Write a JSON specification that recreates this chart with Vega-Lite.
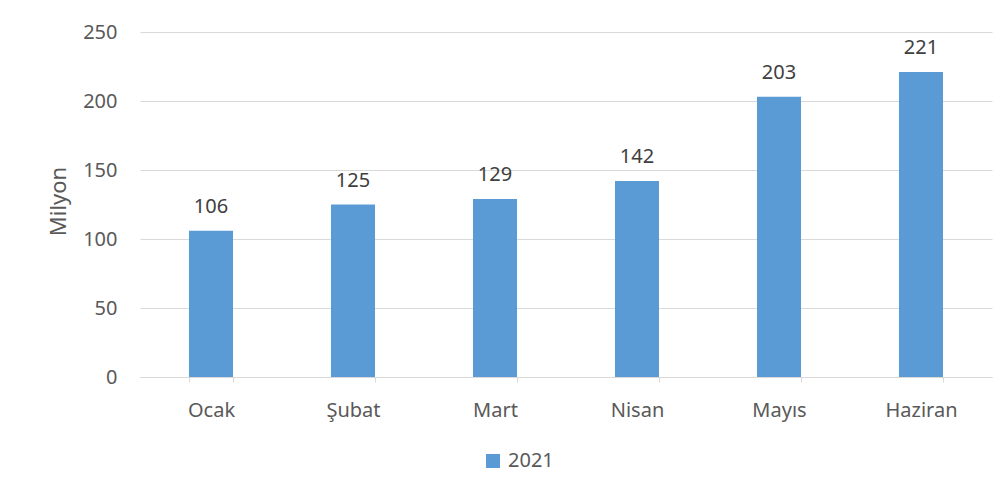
{
  "$schema": "https://vega.github.io/schema/vega-lite/v6.json",
  "width": 852,
  "height": 345,
  "autosize": {"type": "none"},
  "padding": {"left": 140, "top": 32, "right": 16, "bottom": 121},
  "background": "white",
  "config": {"view": {"stroke": null}, "font": "Noto Sans"},
  "data": {
    "values": [
      {"ay": "Ocak", "deger": 106, "yil": "2021"},
      {"ay": "Şubat", "deger": 125, "yil": "2021"},
      {"ay": "Mart", "deger": 129, "yil": "2021"},
      {"ay": "Nisan", "deger": 142, "yil": "2021"},
      {"ay": "Mayıs", "deger": 203, "yil": "2021"},
      {"ay": "Haziran", "deger": 221, "yil": "2021"}
    ]
  },
  "encoding": {
    "x": {
      "field": "ay",
      "type": "nominal",
      "sort": null,
      "scale": {"paddingInner": 0.69, "paddingOuter": 0.345},
      "axis": {
        "title": null,
        "labelAngle": 0,
        "labelFontSize": 20,
        "labelColor": "#595959",
        "labelBaseline": "alphabetic",
        "labelPadding": 34,
        "domainColor": "#D9D9D9",
        "tickColor": "#D9D9D9",
        "tickBand": "extent",
        "tickSize": 5
      }
    },
    "y": {
      "field": "deger",
      "type": "quantitative",
      "scale": {"domain": [0, 250], "nice": false},
      "axis": {
        "values": [0, 50, 100, 150, 200, 250],
        "title": "Milyon",
        "titleFontSize": 22,
        "titleFontWeight": "normal",
        "titleColor": "#595959",
        "titleAngle": 270,
        "titleAlign": "center",
        "titleBaseline": "middle",
        "titleX": -82,
        "titleY": 169,
        "labelFontSize": 20,
        "labelColor": "#595959",
        "labelPadding": 23,
        "ticks": false,
        "domain": false,
        "gridColor": "#D9D9D9",
        "gridWidth": 1
      }
    }
  },
  "layer": [
    {
      "mark": {"type": "bar"},
      "encoding": {
        "color": {
          "field": "yil",
          "type": "nominal",
          "scale": {"range": ["#5B9BD5"]},
          "legend": {
            "title": null,
            "orient": "none",
            "legendX": 343,
            "legendY": 419,
            "padding": 0,
            "symbolType": "square",
            "symbolSize": 196,
            "symbolStrokeWidth": 0,
            "labelFontSize": 20,
            "labelColor": "#595959",
            "labelOffset": 5
          }
        }
      }
    },
    {
      "mark": {"type": "text", "dy": -18, "baseline": "alphabetic", "fontSize": 20, "color": "#404040"},
      "encoding": {"text": {"field": "deger", "type": "quantitative"}}
    }
  ]
}
